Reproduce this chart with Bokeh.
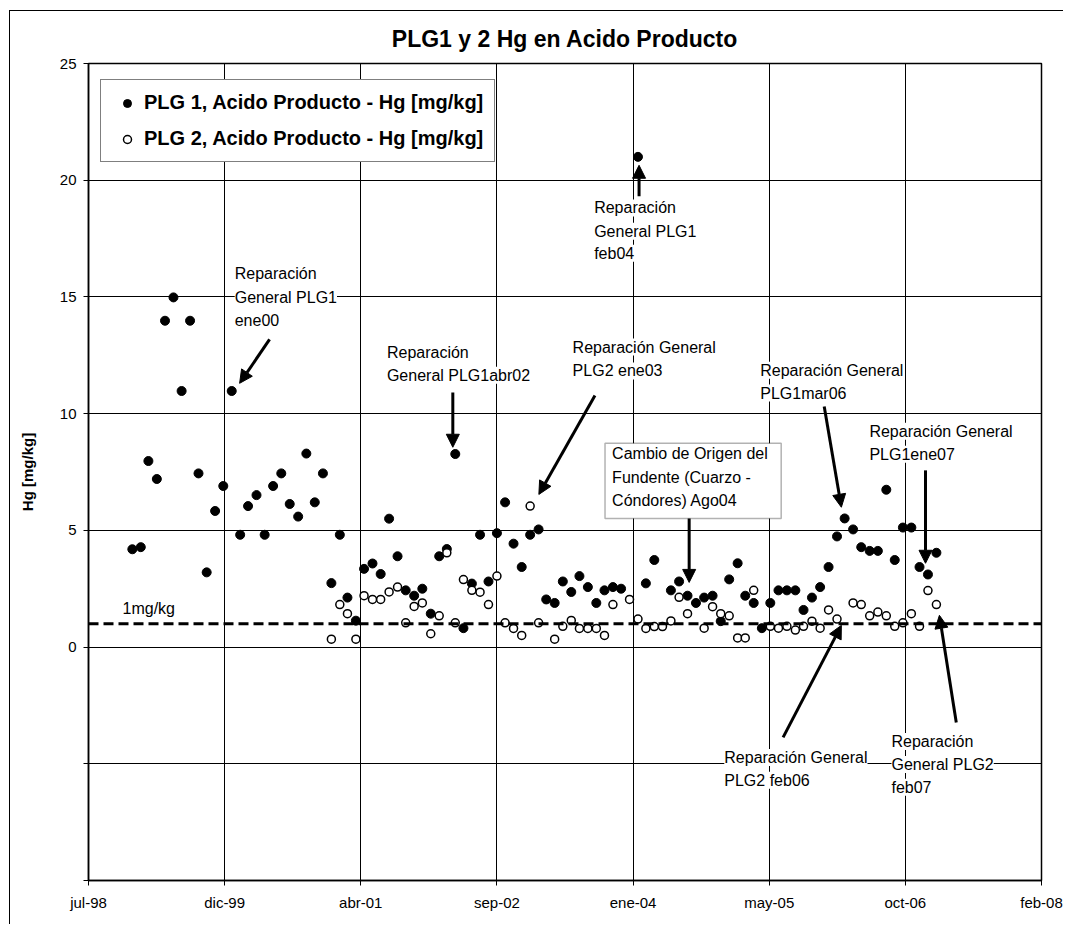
from datetime import datetime, timedelta

from bokeh.plotting import figure
from bokeh.models import (ColumnDataSource, FixedTicker, Span, Arrow, NormalHead,
                          Label, BoxAnnotation, Legend, LegendItem, Title)
from bokeh.embed import file_html
from bokeh.resources import INLINE

# ---------------- data ----------------
plg1_months = [
    "1999-01", "1999-02", "1999-03", "1999-04", "1999-05", "1999-06", "1999-07", "1999-08",
    "1999-09", "1999-10", "1999-11", "1999-12", "2000-01", "2000-02", "2000-03", "2000-04",
    "2000-05", "2000-06", "2000-07", "2000-08", "2000-09", "2000-10", "2000-11", "2000-12",
    "2001-01", "2001-02", "2001-03", "2001-04", "2001-05", "2001-06", "2001-07", "2001-08",
    "2001-09", "2001-10", "2001-11", "2001-12", "2002-01", "2002-02", "2002-03", "2002-04",
    "2002-05", "2002-06", "2002-07", "2002-08", "2002-09", "2002-10", "2002-11", "2002-12",
    "2003-01", "2003-02", "2003-03", "2003-04", "2003-05", "2003-06", "2003-07", "2003-08",
    "2003-09", "2003-10", "2003-11", "2003-12", "2004-02", "2004-03", "2004-04", "2004-06",
    "2004-07", "2004-08", "2004-09", "2004-10", "2004-11", "2004-12", "2005-01", "2005-02",
    "2005-03", "2005-04", "2005-05", "2005-06", "2005-07", "2005-08", "2005-09", "2005-10",
    "2005-11", "2005-12", "2006-01", "2006-02", "2006-03", "2006-04", "2006-05", "2006-06",
    "2006-07", "2006-08", "2006-09", "2006-10", "2006-11", "2006-12", "2007-01", "2007-02",
]
plg1_hg = [
    4.19, 4.28, 7.97, 7.20, 13.98, 14.98, 10.97, 13.98,
    7.44, 3.20, 5.83, 6.90, 10.97, 4.81, 6.04, 6.51,
    4.81, 6.90, 7.44, 6.13, 5.59, 8.29, 6.20, 7.44,
    2.74, 4.81, 2.12, 1.13, 3.35, 3.58, 3.13, 5.50,
    3.89, 2.43, 2.20, 2.50, 1.43, 3.89, 4.20, 8.27,
    0.81, 2.72, 4.81, 2.81, 4.88, 6.20, 4.43, 3.43,
    4.81, 5.04, 2.04, 1.89, 2.81, 2.36, 3.04, 2.57,
    1.89, 2.43, 2.57, 2.50, 21.00, 2.73, 3.73, 2.43,
    2.81, 2.20, 1.89, 2.12, 2.20, 1.11, 2.90, 3.59,
    2.20, 1.89, 0.81, 1.89, 2.43, 2.43, 2.43, 1.59,
    2.12, 2.57, 3.43, 4.74, 5.51, 5.04, 4.28, 4.12,
    4.12, 6.74, 3.73, 5.12, 5.12, 3.43, 3.11, 4.04,
]

plg2_months = [
    "2001-01", "2001-02", "2001-03", "2001-04", "2001-05", "2001-06", "2001-07", "2001-08",
    "2001-09", "2001-10", "2001-11", "2001-12", "2002-01", "2002-02", "2002-03", "2002-04",
    "2002-05", "2002-06", "2002-07", "2002-08", "2002-09", "2002-10", "2002-11", "2002-12",
    "2003-01", "2003-02", "2003-04", "2003-05", "2003-06", "2003-07", "2003-08", "2003-09",
    "2003-10", "2003-11", "2004-01", "2004-02", "2004-03", "2004-04", "2004-05", "2004-06",
    "2004-07", "2004-08", "2004-10", "2004-11", "2004-12", "2005-01", "2005-02", "2005-03",
    "2005-04", "2005-06", "2005-07", "2005-08", "2005-09", "2005-10", "2005-11", "2005-12",
    "2006-01", "2006-02", "2006-04", "2006-05", "2006-06", "2006-07", "2006-08", "2006-09",
    "2006-10", "2006-11", "2006-12", "2007-01", "2007-02",
]
plg2_hg = [
    0.34, 1.82, 1.43, 0.34, 2.20, 2.04, 2.04, 2.36,
    2.57, 1.04, 1.74, 1.89, 0.57, 1.34, 4.04, 1.04,
    2.89, 2.43, 2.35, 1.82, 3.04, 1.04, 0.80, 0.50,
    6.04, 1.04, 0.34, 0.89, 1.14, 0.80, 0.80, 0.80,
    0.50, 1.82, 2.04, 1.20, 0.80, 0.88, 0.88, 1.12,
    2.13, 1.43, 0.81, 1.73, 1.43, 1.34, 0.39, 0.39,
    2.43, 0.89, 0.81, 0.89, 0.73, 0.89, 1.11, 0.81,
    1.59, 1.20, 1.89, 1.82, 1.34, 1.50, 1.34, 0.89,
    1.04, 1.43, 0.89, 2.42, 1.82,
]

limit_value = 1.0
title_text = "PLG1 y 2 Hg en Acido Producto"

# x axis: Excel serial days of the date ticks
tick_serials = [36000, 36500, 37000, 37500, 38000, 38500, 39000, 39500]
tick_labels = ["jul-98", "dic-99", "abr-01", "sep-02", "ene-04", "may-05", "oct-06", "feb-08"]
y_ticks = [-10, -5, 0, 5, 10, 15, 20, 25]

UNIX = datetime(1970, 1, 1)
EXCEL0 = datetime(1899, 12, 30)


def month_ms(m):
    return (datetime.strptime(m, "%Y-%m") - UNIX).total_seconds() * 1000.0


def serial_ms(s):
    return (EXCEL0 + timedelta(days=s) - UNIX).total_seconds() * 1000.0


FONT = "Liberation Sans"

src1 = ColumnDataSource(dict(x=[month_ms(m) for m in plg1_months], y=plg1_hg))
src2 = ColumnDataSource(dict(x=[month_ms(m) for m in plg2_months], y=plg2_hg))

x_ticks = [serial_ms(s) for s in tick_serials]

p = figure(width=1054, height=914, x_axis_type="datetime", title=None,
           x_range=(x_ticks[0], x_ticks[-1]), y_range=(-10, 25),
           output_backend="svg", toolbar_location=None,
           min_border_left=78, min_border_right=23, min_border_top=52, min_border_bottom=45)

p.styles = {"margin-left": "9px", "margin-top": "10px",
            "border-left": "1px solid black", "border-top": "1px solid black"}

p.outline_line_color = "black"
p.outline_line_width = 1.5

p.add_layout(Title(text=title_text, text_font=FONT, text_font_size="23px",
                   text_font_style="bold", text_color="black", align="center",
                   standoff=23), "above")

# axes
p.xaxis.ticker = FixedTicker(ticks=x_ticks)
p.xaxis.major_label_overrides = {t: l for t, l in zip(x_ticks, tick_labels)}
p.yaxis.ticker = FixedTicker(ticks=y_ticks)
p.yaxis.major_label_overrides = {-10: "", -5: ""}
for ax in (p.xaxis, p.yaxis):
    ax.axis_line_color = "black"
    ax.axis_line_width = 1.5
    ax.major_tick_line_color = "black"
    ax.major_tick_out = 5
    ax.major_tick_in = 0
    ax.minor_tick_line_color = None
    ax.major_label_text_font = FONT
    ax.major_label_text_font_size = "15px"
    ax.major_label_text_color = "black"
p.xaxis.major_label_standoff = 8
p.yaxis.major_label_standoff = 7
p.yaxis.axis_label = "Hg [mg/kg]"
p.yaxis.axis_label_text_font = FONT
p.yaxis.axis_label_text_font_size = "15px"
p.yaxis.axis_label_text_font_style = "bold"
p.yaxis.axis_label_text_color = "black"
p.yaxis.axis_label_standoff = 21

p.xgrid.ticker = FixedTicker(ticks=x_ticks)
p.ygrid.ticker = FixedTicker(ticks=y_ticks)
for g in (p.xgrid, p.ygrid):
    g.grid_line_color = "black"
    g.grid_line_width = 1
    g.grid_line_alpha = 1.0

# reference line 1 mg/kg
p.add_layout(Span(location=limit_value, dimension="width", line_color="black",
                  line_width=3, line_dash="10 5"))

r1 = p.scatter("x", "y", source=src1, marker="circle", size=9,
               fill_color="black", line_color="black")
r2 = p.scatter("x", "y", source=src2, marker="circle", size=8,
               fill_color="white", line_color="black", line_width=1.5)

legend = Legend(items=[
    LegendItem(label="PLG 1, Acido Producto - Hg [mg/kg]", renderers=[r1]),
    LegendItem(label="PLG 2, Acido Producto - Hg [mg/kg]", renderers=[r2]),
], location=(12, 718))
legend.label_text_font = FONT
legend.label_text_font_size = "20px"
legend.label_text_font_style = "bold"
legend.label_text_color = "black"
legend.border_line_color = "black"
legend.border_line_width = 1
legend.background_fill_color = "white"
legend.background_fill_alpha = 1.0
legend.padding = 11
legend.spacing = 13
legend.glyph_width = 30
legend.glyph_height = 20
legend.label_height = 20
legend.label_standoff = 2
legend.margin = 0
p.add_layout(legend, "center")

# boxed note
p.add_layout(BoxAnnotation(left=serial_ms(37897), right=serial_ms(38544), top=8.73, bottom=5.51,
                           fill_color="white", fill_alpha=1.0, line_color="black",
                           line_width=1.5))

# annotation texts (Excel serial day, value, text, white background)
notes = [
    (36125, 1.67, "1mg/kg", False),
    (36537, 16.01, "Reparación", True),
    (36537, 14.98, "General PLG1", True),
    (36537, 14.00, "ene00", True),
    (37096, 12.63, "Reparación", True),
    (37096, 11.64, "General PLG1abr02", True),
    (37778, 12.85, "Reparación General", True),
    (37778, 11.83, "PLG2 ene03", True),
    (37857, 18.81, "Reparación", True),
    (37857, 17.81, "General PLG1", True),
    (37857, 16.87, "feb04", True),
    (37923, 8.30, "Cambio de Origen del", False),
    (37923, 7.25, "Fundente (Cuarzo -", False),
    (37923, 6.29, "Cóndores) Ago04", False),
    (38467, 11.86, "Reparación General", True),
    (38467, 10.88, "PLG1mar06", True),
    (38868, 9.25, "Reparación General", True),
    (38868, 8.26, "PLG1ene07", True),
    (38335, -4.73, "Reparación General", True),
    (38335, -5.71, "PLG2 feb06", True),
    (38949, -4.04, "Reparación", True),
    (38949, -5.03, "General PLG2", True),
    (38949, -6.01, "feb07", True),
]
for s, v, t, bg in notes:
    lab = Label(x=serial_ms(s), y=v, text=t, text_font=FONT, text_font_size="16px",
                text_color="black", text_align="left", text_baseline="middle")
    if bg:
        lab.background_fill_color = "white"
        lab.background_fill_alpha = 1.0
    p.add_layout(lab)

# arrows (tail serial, tail value, tip serial, tip value)
arrows = [
    (36665, 13.18, 36555, 11.30),
    (37338, 10.91, 37338, 8.56),
    (37860, 10.78, 37654, 6.54),
    (38022, 19.31, 38022, 20.64),
    (38206, 5.51, 38206, 2.77),
    (38702, 10.31, 38765, 5.99),
    (39074, 7.57, 39074, 3.59),
    (38551, -3.87, 38765, 0.93),
    (39187, -3.23, 39125, 1.36),
]
for xs, ys, xe, ye in arrows:
    p.add_layout(Arrow(end=NormalHead(size=13, fill_color="black", line_color="black"),
                       x_start=serial_ms(xs), y_start=ys, x_end=serial_ms(xe), y_end=ye,
                       line_color="black", line_width=3))

open("out.html", "w").write(file_html(p, INLINE))
